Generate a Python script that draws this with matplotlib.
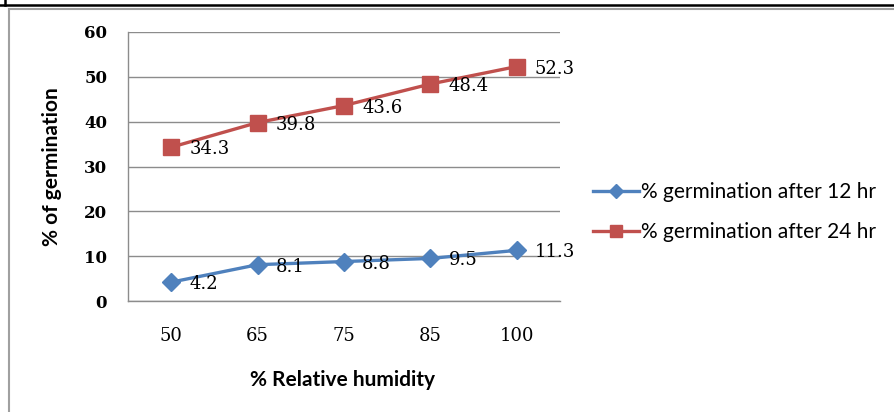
import matplotlib
matplotlib.use('Agg')
import matplotlib.pyplot as plt
from matplotlib.lines import Line2D

# podaci sa grafika
humidity = ['50', '65', '75', '85', '100']
germ_12hr = [4.2, 8.1, 8.8, 9.5, 11.3]
germ_24hr = [34.3, 39.8, 43.6, 48.4, 52.3]
series_names = ['% germination after 12 hr', '% germination after 24 hr']
y_ticks = [0, 10, 20, 30, 40, 50, 60]

BLUE = '#4F81BD'
RED = '#C0504D'
GRID = '#8c8c8c'

W, H = 895, 412
fig = plt.figure(figsize=(W / 100, H / 100), dpi=100)
fig.patch.set_facecolor('white')

# oblast grafika u pikselima
left, top, right, bottom = 128, 32, 560, 301
ax = fig.add_axes([left / W, 1 - bottom / H, (right - left) / W, (bottom - top) / H])

x = list(range(len(humidity)))
l1, = ax.plot(x, germ_12hr, color=BLUE, lw=2.4, marker='D', markersize=9,
              markerfacecolor=BLUE, markeredgecolor=BLUE, label=series_names[0])
l2, = ax.plot(x, germ_24hr, color=RED, lw=2.4, marker='s', markersize=11,
              markerfacecolor=RED, markeredgecolor=RED, label=series_names[1])

for xs, ys in ((x, germ_12hr), (x, germ_24hr)):
    for xi, yi in zip(xs, ys):
        ax.annotate(f'{yi}', (xi, yi), xytext=(13, -1.5), textcoords='offset points',
                    ha='left', va='center', fontsize=13, family='DejaVu Serif')

ax.set_xlim(-0.5, len(humidity) - 0.5)
ax.set_ylim(0, 60)
ax.set_yticks(y_ticks)
ax.set_xticks(x)
ax.set_xticklabels(humidity, family='DejaVu Serif', fontsize=13)
ax.set_yticklabels([str(v) for v in y_ticks], family='DejaVu Serif', fontsize=12, fontweight='bold')
ax.tick_params(axis='y', length=0, pad=15)
ax.tick_params(axis='x', length=0, pad=19)

ax.grid(axis='y', color=GRID, lw=1)
ax.set_axisbelow(True)
for s in ('top', 'right'):
    ax.spines[s].set_visible(False)
for s in ('left', 'bottom'):
    ax.spines[s].set_color(GRID)
    ax.spines[s].set_linewidth(1)

# naslovi osa
fig.text(343 / W, 1 - 380 / H, '% Relative humidity', ha='center', va='center',
         family='Lato', fontweight='bold', fontsize=15)
fig.text(52 / W, 1 - 167 / H, '% of germination', ha='center', va='center', rotation=90,
         family='Lato', fontweight='bold', fontsize=15)

# legenda
fig.legend(handles=[l1, l2], loc='center left', bbox_to_anchor=(593 / W, 1 - 212 / H),
           frameon=False, prop={'family': 'Lato', 'size': 15}, handlelength=2.2,
           handletextpad=0.1, labelspacing=0.95, borderaxespad=0, borderpad=0,
           markerscale=0.8)

# okvir
fig.add_artist(Line2D([0, 1], [1 - 5 / H, 1 - 5 / H], color='black', lw=1.8, transform=fig.transFigure))
fig.add_artist(Line2D([5 / W, 5 / W], [1, 1 - 5 / H], color='black', lw=1.8, transform=fig.transFigure))
fig.add_artist(Line2D([9.5 / W, 1], [1 - 9 / H, 1 - 9 / H], color='#a0a0a0', lw=1.5, transform=fig.transFigure))
fig.add_artist(Line2D([9.5 / W, 9.5 / W], [0, 1 - 9 / H], color='#a0a0a0', lw=1.5, transform=fig.transFigure))

fig.savefig('out.png', dpi=100)
